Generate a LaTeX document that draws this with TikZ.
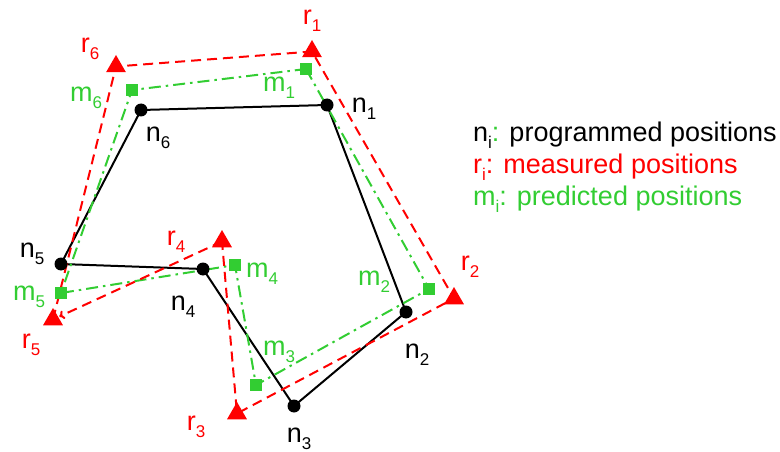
\documentclass[tikz,border=0pt]{standalone}
\usepackage{fontspec}
\setmainfont{Liberation Sans}
\usetikzlibrary{shapes.geometric,arrows.meta}
\definecolor{mred}{RGB}{255,0,0}
\definecolor{mgreen}{RGB}{50,205,50}
\newcommand\lbl[2]{#1\raisebox{-7pt}{\fontsize{17}{17}\selectfont #2}}
\tikzset{
  ndot/.style={circle,fill=black,inner sep=0pt,minimum size=13pt},
  rtri/.style={regular polygon,regular polygon sides=3,fill=mred,inner sep=0pt,minimum size=23pt},
  msq/.style={rectangle,fill=mgreen,inner sep=0pt,minimum size=12pt},
  nline/.style={black,line width=2pt},
  rline/.style={mred,line width=2pt,dash pattern=on 10pt off 6pt},
  mline/.style={mgreen,line width=2pt,dash pattern=on 12pt off 5pt on 2.5pt off 5pt},
  lab/.style={inner sep=0pt,anchor=base,font=\fontsize{27}{30}\selectfont},
  leg/.style={inner sep=0pt,anchor=base west,font=\fontsize{27}{30}\selectfont},
}
\begin{document}
\begin{tikzpicture}[x=1pt,y=-1pt]
\useasboundingbox (0,0) rectangle (780,452);
% programmed
\coordinate (n1) at (327,105);
\coordinate (n2) at (406,312);
\coordinate (n3) at (294,406);
\coordinate (n4) at (203,269);
\coordinate (n5) at (61,264);
\coordinate (n6) at (141,110);
% measured
\coordinate (r1) at (312,51.5);
\coordinate (r2) at (454,298.5);
\coordinate (r3) at (237,413.5);
\coordinate (r4) at (222,241.5);
\coordinate (r5) at (53,319.5);
\coordinate (r6) at (116,66.5);
% predicted
\coordinate (m1) at (306,69);
\coordinate (m2) at (429,289);
\coordinate (m3) at (256,385);
\coordinate (m4) at (235,265);
\coordinate (m5) at (61,293);
\coordinate (m6) at (132,90);

\draw[nline] (n1) -- (n2) -- (n3) -- (n4) -- (n5) -- (n6) -- cycle;
\draw[mline] (m1) -- (m2) -- (m3) -- (m4) -- (m5) -- (m6) -- cycle;
\draw[rline] (r5) -- (r6) -- (r1) -- (r2) -- (r3) -- (r4);
\draw[rline,-{To[length=5pt,width=9pt]},shorten >=7pt] (r4) -- (r5);

\foreach \i in {1,...,6}{
  \node[ndot] (nd\i) at (n\i) {};
  \node[rtri] (rt\i) at (r\i) {};
  \node[msq] (ms\i) at (m\i) {};
}

% labels
\node[lab,mred] (lr1) at (312,25) {\lbl{r}{1}};
\node[lab,mred] (lr2) at (470,270) {\lbl{r}{2}};
\node[lab,mred] (lr3) at (196,430) {\lbl{r}{3}};
\node[lab,mred] (lr4) at (176,245) {\lbl{r}{4}};
\node[lab,mred] (lr5) at (31,348) {\lbl{r}{5}};
\node[lab,mred] (lr6) at (90,53) {\lbl{r}{6}};
\node[lab,mgreen] (lm1) at (279,92) {\lbl{m}{1}};
\node[lab,mgreen] (lm2) at (374,285) {\lbl{m}{2}};
\node[lab,mgreen] (lm3) at (279,355) {\lbl{m}{3}};
\node[lab,mgreen] (lm4) at (262,277) {\lbl{m}{4}};
\node[lab,mgreen] (lm5) at (29,300) {\lbl{m}{5}};
\node[lab,mgreen] (lm6) at (86,102) {\lbl{m}{6}};
\node[lab] (ln1) at (364,113) {\lbl{n}{1}};
\node[lab] (ln2) at (417,358) {\lbl{n}{2}};
\node[lab] (ln3) at (299,442) {\lbl{n}{3}};
\node[lab] (ln4) at (183,310) {\lbl{n}{4}};
\node[lab] (ln5) at (32,257) {\lbl{n}{5}};
\node[lab] (ln6) at (158,142) {\lbl{n}{6}};

% legend
\node[leg] (leg1) at (473,142) {\lbl{n}{i}\textcolor{mgreen}{:} programmed positions};
\node[leg,mred] (leg2) at (473,173) {\lbl{r}{i}: measured positions};
\node[leg,mgreen] (leg3) at (473,205) {\lbl{m}{i}: predicted positions};
\end{tikzpicture}
\end{document}
